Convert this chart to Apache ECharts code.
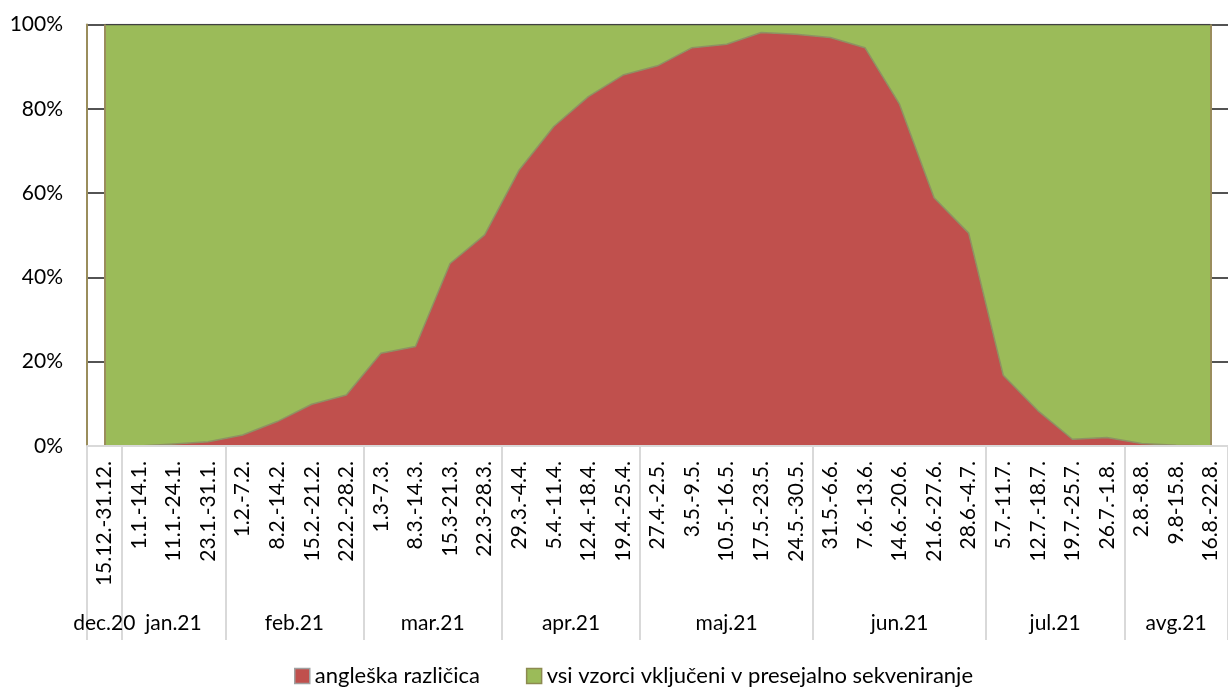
<!DOCTYPE html>
<html>
<head>
<meta charset="utf-8">
<script src="https://cdn.jsdelivr.net/npm/echarts@6/dist/echarts.min.js"></script>
<style>
  html, body { margin: 0; padding: 0; background: #fff; }
  #chart { width: 1228px; height: 687px; }
</style>
</head>
<body>
<div id="chart"></div>
<script>
const weeks = ['15.12.-31.12.','1.1.-14.1.','11.1.-24.1.','23.1.-31.1.','1.2.-7.2.','8.2.-14.2.','15.2.-21.2.','22.2.-28.2.','1.3-7.3.','8.3.-14.3.','15.3-21.3.','22.3-28.3.','29.3.-4.4.','5.4.-11.4.','12.4.-18.4.','19.4.-25.4.','27.4.-2.5.','3.5.-9.5.','10.5.-16.5.','17.5.-23.5.','24.5.-30.5.','31.5.-6.6.','7.6.-13.6.','14.6.-20.6.','21.6.-27.6.','28.6.-4.7.','5.7.-11.7.','12.7.-18.7.','19.7.-25.7.','26.7.-1.8.','2.8.-8.8.','9.8-15.8.','16.8.-22.8.'];
const angleska = [0,0,0.5,1,2.6,5.8,9.9,12.1,22,23.6,43.3,50.1,65.5,75.8,82.9,88,90.2,94.5,95.3,98.1,97.7,96.9,94.5,81.1,58.9,50.5,16.8,8.4,1.6,2,0.6,0.2,0];
const vsiVzorci = [100,100,99.5,99,97.4,94.2,90.1,87.9,78,76.4,56.7,49.9,34.5,24.2,17.1,12,9.8,5.5,4.7,1.9,2.3,3.1,5.5,18.9,41.1,49.5,83.2,91.6,98.4,98,99.4,99.8,100];
const months = ['dec.20','jan.21','feb.21','mar.21','apr.21','maj.21','jun.21','jul.21','avg.21'];
const monthCounts = [1,3,4,4,4,5,5,4,3];

const seriesNames = ['angleška različica','vsi vzorci vključeni v presejalno sekveniranje'];

// month group boundaries and centres (in category units)
const bounds = [0];
monthCounts.forEach(c => bounds.push(bounds[bounds.length-1] + c));
const centres = months.map((m,i) => (bounds[i] + bounds[i+1]) / 2);

const FONT = 'Lato';
const FS = 21;
const chart = echarts.init(document.getElementById('chart'), null, {renderer: 'canvas'});
chart.setOption({
  animation: false,
  backgroundColor: '#ffffff',
  textStyle: { fontFamily: FONT },
  grid: { left: 87, right: -9, top: 24.5, bottom: 241 },
  legend: {
    left: 289, top: 660,
    itemWidth: 15, itemHeight: 15, itemGap: 46,
    icon: 'rect',
    textStyle: { fontFamily: FONT, fontSize: 22, color: '#000' },
    data: [
      { name: seriesNames[0], itemStyle: { color: '#C0504D', borderColor: '#A0A0A0', borderWidth: 1.5 } },
      { name: seriesNames[1], itemStyle: { color: '#9BBB59', borderColor: '#8C8A50', borderWidth: 1.5 } }
    ]
  },
  xAxis: [
    {
      type: 'category',
      data: weeks,
      boundaryGap: true,
      position: 'bottom',
      z: 5,
      axisLine: { show: true, lineStyle: { color: '#D9D9D9', width: 2 } },
      axisTick: { show: false },
      axisLabel: { interval: 0, rotate: 90, margin: 15, fontFamily: FONT, fontSize: FS, color: '#000' },
      splitLine: { show: false }
    },
    {
      type: 'value',
      min: 0, max: bounds[bounds.length-1],
      position: 'bottom',
      z: 5,
      axisLine: { show: false },
      splitLine: { show: false },
      axisTick: { show: true, customValues: bounds, length: 194, lineStyle: { color: '#D9D9D9', width: 2 } },
      axisLabel: {
        show: true, customValues: centres, margin: 167,
        fontFamily: FONT, fontSize: FS, color: '#000',
        formatter: v => { const i = centres.findIndex(c => Math.abs(c - v) < 1e-6); return i >= 0 ? months[i] : ''; }
      }
    }
  ],
  yAxis: {
    type: 'value', min: 0, max: 100, interval: 20,
    axisLine: { show: true, lineStyle: { color: '#9A8D5C', width: 2 } },
    axisTick: { show: false },
    axisLabel: { margin: 24, fontFamily: FONT, fontSize: FS, color: '#000', formatter: '{value}%' },
    splitLine: { show: true, lineStyle: { color: '#1a1a1a', width: 1.5 } }
  },
  series: [
    {
      name: seriesNames[0], type: 'line', stack: 'total',
      data: angleska, symbol: 'none', smooth: false,
      itemStyle: { color: '#C0504D' },
      lineStyle: { color: '#8E9163', width: 1.5 },
      areaStyle: { color: '#C0504D', opacity: 1 }
    },
    {
      name: seriesNames[1], type: 'line', stack: 'total',
      data: vsiVzorci, symbol: 'none', smooth: false,
      itemStyle: { color: '#9BBB59' },
      lineStyle: { color: '#404040', width: 1.5 },
      areaStyle: { color: '#9BBB59', opacity: 1 },
      markLine: {
        silent: true, symbol: ['none','none'], animation: false,
        label: { show: false },
        lineStyle: { color: '#9A8D5C', width: 2, type: 'solid' },
        data: [ { xAxis: weeks[0] }, { xAxis: weeks[weeks.length-1] } ]
      }
    }
  ]
});
</script>
</body>
</html>
